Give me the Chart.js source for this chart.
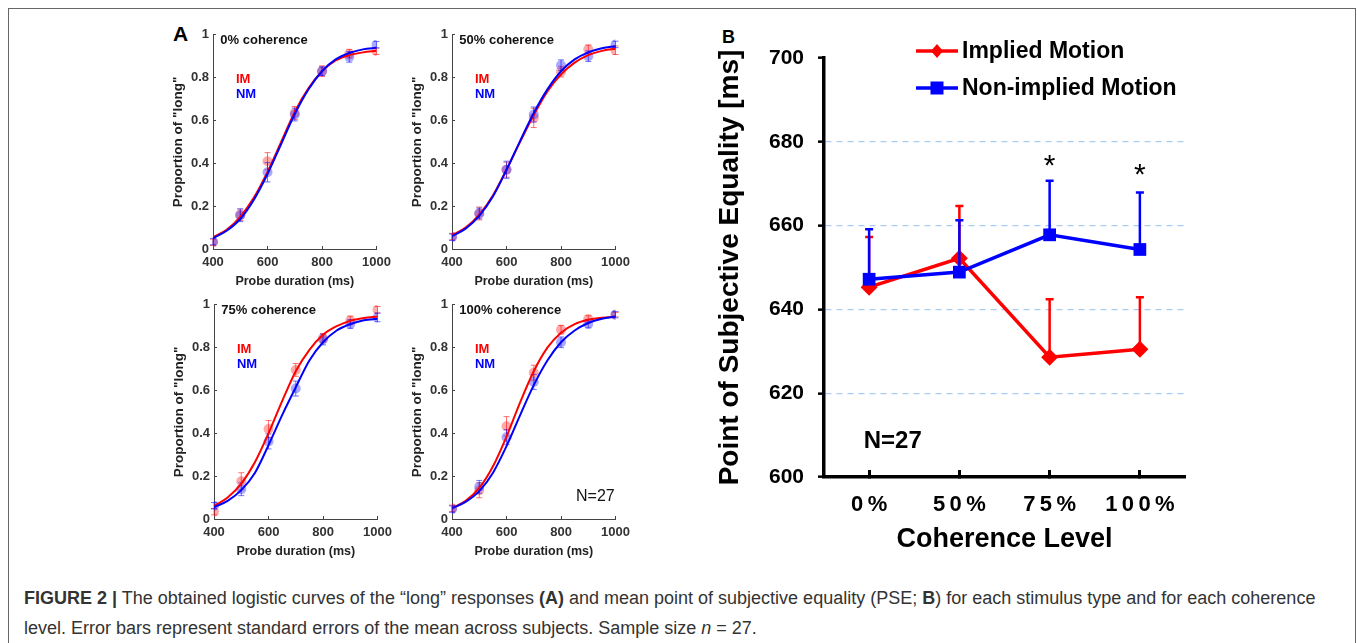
<!DOCTYPE html>
<html>
<head>
<meta charset="utf-8">
<script src="https://cdn.jsdelivr.net/npm/chart.js@4.4.1/dist/chart.umd.min.js"></script>
<style>
  body { margin:0; background:#fff; width:1357px; height:643px; overflow:hidden; position:relative; font-family:'Liberation Sans', Arial, sans-serif; }
  .frame { position:absolute; left:8px; top:8px; width:1346px; height:700px; border:1px solid #666; }
  .box { position:absolute; }
  .panel-label { position:absolute; font-weight:bold; color:#000; }
  .caption { position:absolute; left:24px; top:583px; font-size:18px; line-height:30px; color:#333; white-space:nowrap; }
</style>
</head>
<body>
<div class="frame"></div>
<div class="panel-label" style="left:173px;top:22px;font-size:21px">A</div>
<div class="panel-label" style="left:722px;top:27px;font-size:18px">B</div>
<div class="box" style="left:160px;top:20px;width:240px;height:280px"><canvas id="Grafico1"></canvas></div>
<div class="box" style="left:399px;top:20px;width:240px;height:280px"><canvas id="Grafico2"></canvas></div>
<div class="box" style="left:161px;top:290px;width:240px;height:280px"><canvas id="Grafico3"></canvas></div>
<div class="box" style="left:399px;top:290px;width:240px;height:280px"><canvas id="Grafico4"></canvas></div>
<div class="box" style="left:700px;top:20px;width:500px;height:540px"><canvas id="GraficoB"></canvas></div>
<div class="caption"><b>FIGURE 2 |</b> The obtained logistic curves of the “long” responses <b>(A)</b> and mean point of subjective equality (PSE; <b>B</b>) for each stimulus type and for each coherence<br>level. Error bars represent standard errors of the mean across subjects. Sample size <i>n</i> = 27.</div>

<script>
var FONT = "'Liberation Sans', Arial, sans-serif";

// panel A: proportion of "long" responses per probe duration
var probeDur = [400, 500, 600, 700, 800, 900, 1000];
var fitDur = [400, 450, 500, 550, 600, 650, 700, 750, 800, 850, 900, 950, 1000];
var yTicksA = [0, 0.2, 0.4, 0.6, 0.8, 1];

var im0 = [0.031, 0.158, 0.41, 0.635, 0.83, 0.912, 0.923];
var nm0 = [0.035, 0.158, 0.358, 0.628, 0.83, 0.897, 0.954];
var im0Err = [0.015, 0.025, 0.04, 0.03, 0.025, 0.02, 0.015];
var nm0Err = [0.015, 0.03, 0.045, 0.03, 0.02, 0.025, 0.015];
var im0Fit = [0.055, 0.09, 0.15, 0.24, 0.36, 0.50, 0.64, 0.75, 0.83, 0.88, 0.905, 0.918, 0.925];
var nm0Fit = [0.05, 0.085, 0.14, 0.23, 0.35, 0.49, 0.63, 0.745, 0.83, 0.885, 0.915, 0.932, 0.94];

var im50 = [0.058, 0.166, 0.37, 0.612, 0.828, 0.932, 0.928];
var nm50 = [0.055, 0.166, 0.37, 0.628, 0.858, 0.90, 0.955];
var im50Err = [0.015, 0.03, 0.035, 0.045, 0.025, 0.02, 0.02];
var nm50Err = [0.015, 0.025, 0.04, 0.035, 0.025, 0.025, 0.015];
var im50Fit = [0.065, 0.10, 0.16, 0.25, 0.37, 0.50, 0.625, 0.735, 0.815, 0.87, 0.905, 0.925, 0.935];
var nm50Fit = [0.06, 0.095, 0.155, 0.245, 0.37, 0.505, 0.635, 0.745, 0.83, 0.885, 0.918, 0.937, 0.947];

var im75 = [0.034, 0.176, 0.42, 0.696, 0.845, 0.927, 0.977];
var nm75 = [0.062, 0.139, 0.362, 0.609, 0.838, 0.91, 0.941];
var im75Err = [0.015, 0.04, 0.04, 0.03, 0.02, 0.02, 0.015];
var nm75Err = [0.015, 0.03, 0.035, 0.035, 0.025, 0.02, 0.02];
var im75Fit = [0.06, 0.10, 0.165, 0.265, 0.40, 0.55, 0.69, 0.79, 0.86, 0.90, 0.925, 0.938, 0.945];
var nm75Fit = [0.055, 0.085, 0.135, 0.215, 0.345, 0.485, 0.615, 0.74, 0.825, 0.88, 0.91, 0.928, 0.935];

var im100 = [0.05, 0.134, 0.433, 0.683, 0.884, 0.934, 0.954];
var nm100 = [0.046, 0.15, 0.382, 0.64, 0.825, 0.912, 0.954];
var im100Err = [0.015, 0.035, 0.045, 0.035, 0.02, 0.015, 0.01];
var nm100Err = [0.015, 0.03, 0.035, 0.035, 0.025, 0.02, 0.015];
var im100Fit = [0.05, 0.085, 0.145, 0.245, 0.385, 0.545, 0.69, 0.80, 0.87, 0.91, 0.93, 0.94, 0.945];
var nm100Fit = [0.05, 0.08, 0.13, 0.215, 0.34, 0.485, 0.625, 0.74, 0.825, 0.88, 0.915, 0.935, 0.945];

var panelTitles = ["0% coherence", "50% coherence", "75% coherence", "100% coherence"];

// panel B: PSE per coherence level
var coherenceLabels = ["0%", "50%", "75%", "100%"];
var seriesNames = ["Implied Motion", "Non-implied Motion"];
var pseIM = [645.3, 652.2, 628.6, 630.5];
var pseIMse = [12.0, 12.5, 13.8, 12.4];
var pseNM = [647.2, 648.9, 657.8, 654.3];
var pseNMse = [11.9, 12.4, 12.9, 13.6];

function toXY(xs, ys) {
  return xs.map(function(x, i) { return {x: x, y: ys[i]}; });
}

function drawErrors(chart, ds) {
  var c = chart.ctx, xs = chart.scales.x, ys = chart.scales.y;
  c.save();
  c.strokeStyle = ds.errColor;
  c.lineWidth = ds.errWidth;
  ds.data.forEach(function(pt, i) {
    var px = xs.getPixelForValue(pt.x);
    var top = ys.getPixelForValue(pt.y + ds.errors[i]);
    var bot = ds.upperOnly ? ys.getPixelForValue(pt.y) : ys.getPixelForValue(pt.y - ds.errors[i]);
    c.beginPath();
    c.moveTo(px, top); c.lineTo(px, bot);
    c.moveTo(px - ds.errCap, top); c.lineTo(px + ds.errCap, top);
    if (!ds.upperOnly) { c.moveTo(px - ds.errCap, bot); c.lineTo(px + ds.errCap, bot); }
    c.stroke();
  });
  c.restore();
}

var errorBars = {
  id: 'errorBars',
  beforeDatasetDraw: function(chart, args) {
    var ds = chart.data.datasets[args.index];
    if (ds.errors && ds.errBefore) drawErrors(chart, ds);
  },
  afterDatasetDraw: function(chart, args) {
    var ds = chart.data.datasets[args.index];
    if (ds.errors && !ds.errBefore) drawErrors(chart, ds);
  }
};

var notes = {
  id: 'notes',
  afterDraw: function(chart, args, opts) {
    var c = chart.ctx;
    (opts.items || []).forEach(function(n) {
      c.save();
      c.font = n.font;
      c.fillStyle = n.color;
      c.textAlign = n.align || 'left';
      c.textBaseline = 'middle';
      c.fillText(n.text, chart.scales.x.getPixelForValue(n.x), chart.scales.y.getPixelForValue(n.y));
      c.restore();
    });
  }
};

// legend of panel B: line + marker + label
var motionLegend = {
  id: 'motionLegend',
  afterDraw: function(chart, args, opts) {
    if (!opts.items) return;
    var c = chart.ctx;
    opts.items.forEach(function(it) {
      c.save();
      c.strokeStyle = it.color;
      c.fillStyle = it.color;
      c.lineWidth = 3.5;
      c.beginPath(); c.moveTo(it.x, it.y); c.lineTo(it.x + 42, it.y); c.stroke();
      var mx = it.x + 21;
      c.beginPath();
      if (it.marker === 'diamond') {
        c.moveTo(mx, it.y - 7); c.lineTo(mx + 6, it.y); c.lineTo(mx, it.y + 7); c.lineTo(mx - 6, it.y);
      } else {
        c.rect(mx - 6.5, it.y - 6.5, 13, 13);
      }
      c.closePath(); c.fill();
      c.font = 'bold 23px ' + FONT;
      c.fillStyle = '#000';
      c.textBaseline = 'middle';
      c.fillText(it.text, it.x + 46, it.y + 1);
      c.restore();
    });
  }
};

Chart.register(errorBars, notes, motionLegend);

function smallChart(id, p, idx) {
  var ctx = document.getElementById(id).getContext('2d');
  var items = [
    {text: panelTitles[idx], x: 427, y: 0.975, font: 'bold 13px ' + FONT, color: '#111'},
    {text: 'IM', x: 484, y: 0.79, font: 'bold 13px ' + FONT, color: '#ff0000'},
    {text: 'NM', x: 484, y: 0.72, font: 'bold 13px ' + FONT, color: '#0000ff'}
  ];
  if (idx === 3) items.push({text: 'N=27', x: 997, y: 0.105, font: '16px ' + FONT, color: '#111', align: 'right'});
  return new Chart(ctx, {
    type: 'scatter',
    data: {
      datasets: [{
        label: 'IM fit', data: toXY(fitDur, p.imFit), showLine: true, borderColor: '#ff0000',
        borderWidth: 2, pointRadius: 0, cubicInterpolationMode: 'monotone', order: 2
      }, {
        label: 'NM fit', data: toXY(fitDur, p.nmFit), showLine: true, borderColor: '#0000ff',
        borderWidth: 2, pointRadius: 0, cubicInterpolationMode: 'monotone', order: 1
      }, {
        label: 'IM', data: toXY(probeDur, p.im), errors: p.imErr, errColor: 'rgba(255,0,0,0.55)', errWidth: 1, errCap: 3,
        backgroundColor: 'rgba(255,40,40,0.4)', borderWidth: 0, pointRadius: 5, order: 4
      }, {
        label: 'NM', data: toXY(probeDur, p.nm), errors: p.nmErr, errColor: 'rgba(0,0,255,0.55)', errWidth: 1, errCap: 3,
        backgroundColor: 'rgba(40,40,255,0.4)', borderWidth: 0, pointRadius: 5, order: 3
      }]
    },
    options: {
      responsive: true, maintainAspectRatio: false, animation: false,
      layout: {padding: {top: 12, right: 13, left: 0, bottom: 0}},
      plugins: {legend: {display: false}, tooltip: {enabled: false}, notes: {items: items}},
      scales: {
        x: {
          type: 'linear', min: 400, max: 1000,
          afterFit: function(s) { s.height = 51; },
          ticks: {stepSize: 200, padding: 9, maxRotation: 0, color: '#333', font: {family: FONT, size: 13, weight: 'bold'},
            callback: function(v) { return String(v); }},
          grid: {drawOnChartArea: false, tickLength: -3, tickColor: '#444'},
          border: {color: '#444', width: 1},
          title: {display: true, text: 'Probe duration (ms)', color: '#222', font: {family: FONT, size: 12.5, weight: 'bold'}, padding: {top: 0, bottom: 11}}
        },
        y: {
          min: 0, max: 1,
          afterFit: function(s) { s.width = 53; },
          afterBuildTicks: function(s) { s.ticks = yTicksA.map(function(v) { return {value: v}; }); },
          ticks: {padding: 7, color: '#333', font: {family: FONT, size: 13, weight: 'bold'},
            callback: function(v) { return String(Math.round(v * 10) / 10); }},
          grid: {drawOnChartArea: false, tickLength: -3, tickColor: '#444'},
          border: {color: '#444', width: 1},
          title: {display: true, text: 'Proportion of "long"', color: '#222', font: {family: FONT, size: 13.5, weight: 'bold'}, padding: {top: 10, bottom: 0}}
        }
      }
    }
  });
}

function pseChart(id) {
  var ctx = document.getElementById(id).getContext('2d');
  var xs = coherenceLabels.map(function(_, i) { return i + 1; });
  return new Chart(ctx, {
    type: 'scatter',
    data: {
      datasets: [{
        label: seriesNames[0], data: toXY(xs, pseIM), showLine: true, borderColor: '#ff0000', backgroundColor: '#ff0000',
        borderWidth: 3.5, pointStyle: 'rectRot', pointRadius: 8.5, pointBorderWidth: 0,
        errors: pseIMse, upperOnly: true, errBefore: true, errColor: '#ff0000', errWidth: 2.5, errCap: 4, order: 2
      }, {
        label: seriesNames[1], data: toXY(xs, pseNM), showLine: true, borderColor: '#0000ff', backgroundColor: '#0000ff',
        borderWidth: 3.5, pointStyle: 'rect', pointRadius: 9, pointBorderWidth: 0,
        errors: pseNMse, upperOnly: true, errBefore: true, errColor: '#0000ff', errWidth: 2.5, errCap: 4, order: 1
      }]
    },
    options: {
      responsive: true, maintainAspectRatio: false, animation: false,
      layout: {padding: {top: 38, right: 15, left: 0, bottom: 0}},
      plugins: {
        legend: {display: false}, tooltip: {enabled: false},
        notes: {items: [
          {text: 'N=27', x: 0.94, y: 608.4, font: 'bold 24px ' + FONT, color: '#000'},
          {text: '*', x: 3, y: 674, font: '30px ' + FONT, color: '#000', align: 'center'},
          {text: '*', x: 4, y: 671.8, font: '30px ' + FONT, color: '#000', align: 'center'}
        ]},
        motionLegend: {items: [
          {text: seriesNames[0], color: '#ff0000', marker: 'diamond', x: 216, y: 31},
          {text: seriesNames[1], color: '#0000ff', marker: 'square', x: 216, y: 68}
        ]}
      },
      scales: {
        x: {
          type: 'linear', min: 0.5, max: 4.5,
          afterFit: function(s) { s.height = 83; },
          afterBuildTicks: function(s) { s.ticks = xs.map(function(v) { return {value: v}; }); },
          ticks: {padding: 22, color: '#000', font: {family: FONT, size: 22, weight: 'bold'},
            callback: function(v) { return coherenceLabels[v - 1].split('').join('\u2009'); }},
          grid: {drawOnChartArea: false, tickLength: -7, tickColor: '#000', tickWidth: 3},
          border: {color: '#000', width: 3.5},
          title: {display: true, text: 'Coherence Level', color: '#000', font: {family: FONT, size: 27, weight: 'bold'}, padding: {top: 0, bottom: 4}}
        },
        y: {
          min: 600, max: 700,
          afterFit: function(s) { s.width = 124; },
          ticks: {stepSize: 20, padding: 14, color: '#000', font: {family: FONT, size: 21, weight: 'bold'}},
          grid: {
            color: function(c) { return (c.tick && (c.tick.value === 600 || c.tick.value === 700)) ? 'rgba(0,0,0,0)' : '#a8cdf0'; },
            lineWidth: 1.3, tickColor: '#000', tickWidth: 2.5, tickLength: 6
          },
          border: {color: '#000', width: 3.5, dash: [6, 5]},
          title: {display: true, text: 'Point of Subjective Equality [ms]', color: '#000', font: {family: FONT, size: 28, weight: 'bold'}, padding: {top: 13, bottom: 0}}
        }
      }
    }
  });
}

var panels = [
  {im: im0, nm: nm0, imErr: im0Err, nmErr: nm0Err, imFit: im0Fit, nmFit: nm0Fit},
  {im: im50, nm: nm50, imErr: im50Err, nmErr: nm50Err, imFit: im50Fit, nmFit: nm50Fit},
  {im: im75, nm: nm75, imErr: im75Err, nmErr: nm75Err, imFit: im75Fit, nmFit: nm75Fit},
  {im: im100, nm: nm100, imErr: im100Err, nmErr: nm100Err, imFit: im100Fit, nmFit: nm100Fit}
];

window.onload = function() {
  for (var i = 0; i < panels.length; i++) {
    smallChart("Grafico" + (i + 1), panels[i], i);
  }
  pseChart("GraficoB");
};
</script>
</body>
</html>
